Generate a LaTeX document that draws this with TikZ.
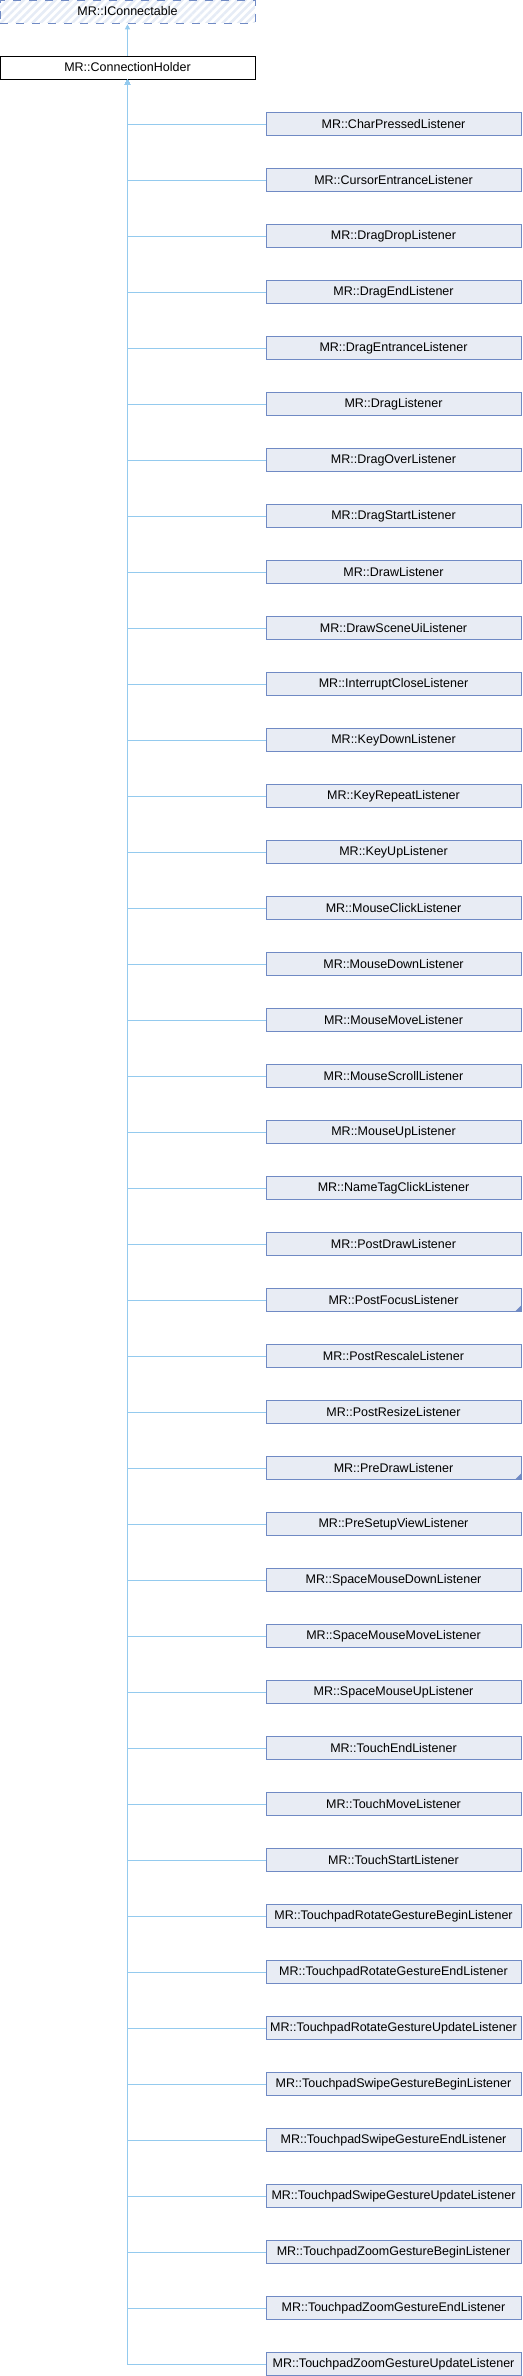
\documentclass[tikz,border=0pt]{standalone}
\usepackage{fontspec}
\setmainfont{Liberation Sans}
\usetikzlibrary{arrows.meta,patterns.meta}
\definecolor{kidfill}{RGB}{232,236,244}
\definecolor{kidline}{RGB}{112,138,196}
\definecolor{hatch}{RGB}{230,236,246}
\definecolor{edgeblue}{RGB}{148,202,238}
\begin{document}
\begin{tikzpicture}[x=1pt, y=-1pt, font=\fontsize{12.5}{14}\selectfont, >={Triangle[width=5pt,length=5pt]},
          cls/.style={draw, line width=0.9pt, minimum width=255pt, minimum height=23pt, inner sep=0pt},
          kid/.style={cls, draw=kidline, fill=kidfill},
          plain/.style={},
          more/.style={path picture={\fill[kidline] (path picture bounding box.south east) -- ++(-6pt,0) -- ++(6pt,6pt) -- cycle;}},
          ext/.style={cls, draw=kidline, dash pattern=on 8pt off 8pt, pattern={Lines[angle=45,distance=5.6pt,line width=2.6pt]}, pattern color=hatch},
          inh/.style={draw=edgeblue, line width=0.9pt, ->}]
        \useasboundingbox (0,0) rectangle (522,2376);
        \node[ext] (iconn) at (127.5,11.5) {MR::IConnectable};
        \node[cls, fill=white] (holder) at (127.5,67.5) {MR::ConnectionHolder};
        \draw[inh] (holder) -- (iconn);
        % listeners, "more" marks the ones with hidden children
        \foreach \nm/\xs [count=\i] in {CharPressed/plain, CursorEntrance/plain, DragDrop/plain, DragEnd/plain,
            DragEntrance/plain, Drag/plain, DragOver/plain, DragStart/plain, Draw/plain, DrawSceneUi/plain,
            InterruptClose/plain, KeyDown/plain, KeyRepeat/plain, KeyUp/plain, MouseClick/plain, MouseDown/plain,
            MouseMove/plain, MouseScroll/plain, MouseUp/plain, NameTagClick/plain, PostDraw/plain, PostFocus/more,
            PostRescale/plain, PostResize/plain, PreDraw/more, PreSetupView/plain, SpaceMouseDown/plain,
            SpaceMouseMove/plain, SpaceMouseUp/plain, TouchEnd/plain, TouchMove/plain, TouchStart/plain,
            TouchpadRotateGestureBegin/plain, TouchpadRotateGestureEnd/plain, TouchpadRotateGestureUpdate/plain,
            TouchpadSwipeGestureBegin/plain, TouchpadSwipeGestureEnd/plain, TouchpadSwipeGestureUpdate/plain,
            TouchpadZoomGestureBegin/plain, TouchpadZoomGestureEnd/plain, TouchpadZoomGestureUpdate/plain} {
          \node[kid, \xs] (c\i) at (393.5,{124+(\i-1)*56}) {MR::\nm Listener};
          \draw[inh] (c\i.west) -| (holder.south);
        }
      \end{tikzpicture}
\end{document}
